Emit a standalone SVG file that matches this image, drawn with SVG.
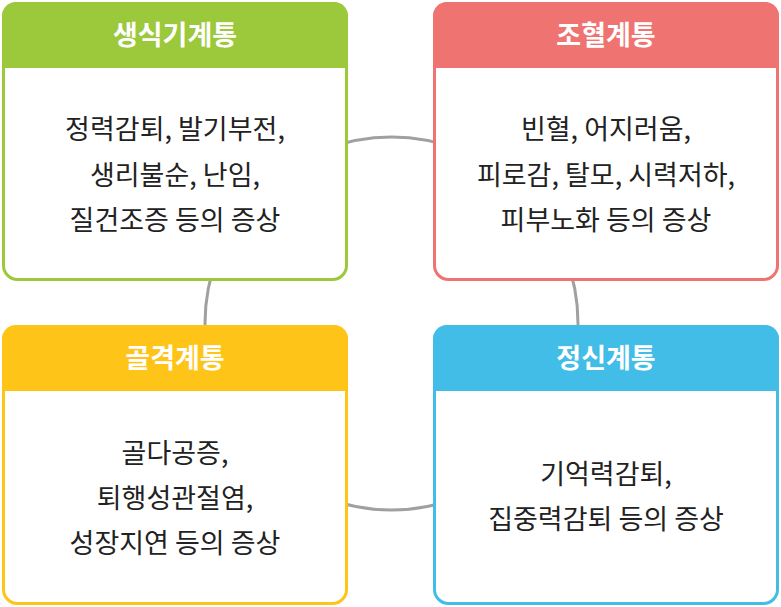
<svg xmlns="http://www.w3.org/2000/svg" width="781" height="607" viewBox="0 0 781 607">
<style>
.t{font-family:"Noto Sans CJK KR","Noto Sans",sans-serif;font-size:27px;fill:#222;text-anchor:middle;dominant-baseline:central}
.h{font-family:"Noto Sans CJK KR","Noto Sans",sans-serif;font-size:27px;font-weight:bold;fill:#fff;text-anchor:middle;dominant-baseline:central}
.b{fill:#fff;stroke-width:3}
</style>
<rect width="781" height="607" fill="#fff"/>
<g id="connectors">
<circle cx="391.5" cy="323.5" r="186.5" fill="none" stroke="#a0a0a0" stroke-width="3"/>
</g>
<g id="n1">
<rect class="b" x="3.5" y="3.5" width="343" height="276" rx="14" stroke="#9cc83b"/>
<path d="M2 68 V16 A14 14 0 0 1 16 2 H334 A14 14 0 0 1 348 16 V68 Z" fill="#9cc83b"/>
<text class="h" x="175" y="33">생식기계통</text>
<text class="t" x="175" y="127">정력감퇴, 발기부전,</text>
<text class="t" x="175" y="173">생리불순, 난임,</text>
<text class="t" x="175" y="218">질건조증 등의 증상</text>
</g>
<g id="n2">
<rect class="b" x="434.5" y="3.5" width="343" height="276" rx="14" stroke="#ef7370"/>
<path d="M433 68 V16 A14 14 0 0 1 447 2 H765 A14 14 0 0 1 779 16 V68 Z" fill="#ef7370"/>
<text class="h" x="606" y="33">조혈계통</text>
<text class="t" x="606" y="127">빈혈, 어지러움,</text>
<text class="t" x="606" y="173">피로감, 탈모, 시력저하,</text>
<text class="t" x="606" y="218">피부노화 등의 증상</text>
</g>
<g id="n3">
<rect class="b" x="3.5" y="326.5" width="343" height="277" rx="14" stroke="#fec418"/>
<path d="M2 391 V339 A14 14 0 0 1 16 325 H334 A14 14 0 0 1 348 339 V391 Z" fill="#fec418"/>
<text class="h" x="175" y="356">골격계통</text>
<text class="t" x="175" y="451">골다공증,</text>
<text class="t" x="175" y="496">퇴행성관절염,</text>
<text class="t" x="175" y="541">성장지연 등의 증상</text>
</g>
<g id="n4">
<rect class="b" x="434.5" y="326.5" width="343" height="277" rx="14" stroke="#42bde8"/>
<path d="M433 391 V339 A14 14 0 0 1 447 325 H765 A14 14 0 0 1 779 339 V391 Z" fill="#42bde8"/>
<text class="h" x="606" y="356">정신계통</text>
<text class="t" x="606" y="472">기억력감퇴,</text>
<text class="t" x="606" y="517">집중력감퇴 등의 증상</text>
</g>
</svg>
